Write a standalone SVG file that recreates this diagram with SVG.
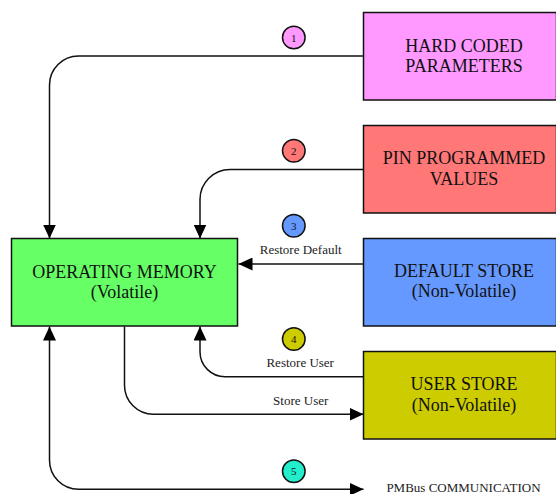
<svg xmlns="http://www.w3.org/2000/svg" width="556" height="494" viewBox="0 0 556 494">
<style>
.box{stroke:#111;stroke-width:1.5}
.t{font-family:'Liberation Serif','DejaVu Serif','Times New Roman',Times,serif;font-size:18px;fill:#111;text-anchor:middle}
.lbl{font-family:'Liberation Serif','DejaVu Serif','Times New Roman',Times,serif;font-size:13px;fill:#222;text-anchor:middle}
.num{font-family:'Liberation Serif','DejaVu Serif','Times New Roman',Times,serif;font-size:11px;fill:#111;text-anchor:middle}
.c{stroke:#111;stroke-width:1.5}
.ln{fill:none;stroke:#111;stroke-width:1.5}
</style>
<defs>
<marker id="ah" markerUnits="userSpaceOnUse" markerWidth="14" markerHeight="13" refX="14" refY="6.5" orient="auto-start-reverse" viewBox="0 0 14 13">
<path d="M0,0 L14,6.5 L0,13 Z" fill="#000"/>
</marker>
</defs>
<rect width="556" height="494" fill="#fff"/>
<g id="connectors">
<path class="ln" d="M363.5,56 H78.5 A29,29 0 0 0 49.5,85 V238.5" marker-end="url(#ah)"/>
<path class="ln" d="M363.5,169.5 H230 A30,30 0 0 0 200,199.5 V238.5" marker-end="url(#ah)"/>
<path class="ln" d="M363.5,264 H238.5" marker-end="url(#ah)"/>
<path class="ln" d="M363.5,376.7 H225 A25,25 0 0 1 200,351.7 V326.5" marker-end="url(#ah)"/>
<path class="ln" d="M124.5,326.5 V385.3 A29,29 0 0 0 153.5,414.3 H363.5" marker-end="url(#ah)"/>
<path class="ln" d="M49.5,326.5 V460.3 A29,29 0 0 0 78.5,489.3 H363.5" marker-start="url(#ah)" marker-end="url(#ah)"/>
<text class="lbl" x="300.7" y="254.3">Restore Default</text>
<text class="lbl" x="300.2" y="367.3">Restore User</text>
<text class="lbl" x="300.7" y="405.3">Store User</text>
</g>
<g id="badge1"><circle class="c" cx="293.8" cy="37.5" r="11.3" fill="#ff99ff"/><text class="num" x="293.8" y="41.5">1</text></g>
<g id="badge2"><circle class="c" cx="293.8" cy="150.7" r="11.3" fill="#ff7777"/><text class="num" x="293.8" y="154.7">2</text></g>
<g id="badge3"><circle class="c" cx="293.8" cy="225.7" r="11.3" fill="#6699ff"/><text class="num" x="293.8" y="229.7">3</text></g>
<g id="badge4"><circle class="c" cx="293.8" cy="339" r="11.3" fill="#cccc00"/><text class="num" x="293.8" y="343">4</text></g>
<g id="badge5"><circle class="c" cx="293.8" cy="471.3" r="11.3" fill="#22eecc"/><text class="num" x="293.8" y="475.3">5</text></g>
<g id="hard-coded">
<rect class="box" x="363.5" y="12.5" width="193" height="87.5" fill="#ff99ff"/>
<text class="t" x="464" y="51.7">HARD CODED</text>
<text class="t" x="464" y="72.3">PARAMETERS</text>
</g>
<g id="pin-programmed">
<rect class="box" x="363.5" y="125.5" width="193" height="87.5" fill="#ff7777"/>
<text class="t" x="464" y="164">PIN PROGRAMMED</text>
<text class="t" x="464" y="184.7">VALUES</text>
</g>
<g id="operating-memory">
<rect class="box" x="11.5" y="238.5" width="226" height="87.5" fill="#66ff66"/>
<text class="t" x="124.5" y="277.7">OPERATING MEMORY</text>
<text class="t" x="124.5" y="297.7">(Volatile)</text>
</g>
<g id="default-store">
<rect class="box" x="363.5" y="238.5" width="193" height="87.5" fill="#6699ff"/>
<text class="t" x="464" y="276.9">DEFAULT STORE</text>
<text class="t" x="464" y="297.4">(Non-Volatile)</text>
</g>
<g id="user-store">
<rect class="box" x="363.5" y="351.5" width="193" height="87.5" fill="#cccc00"/>
<text class="t" x="464" y="390.2">USER STORE</text>
<text class="t" x="464" y="410.7">(Non-Volatile)</text>
</g>
<g id="pmbus">
<text class="lbl" x="463.5" y="491.5">PMBus COMMUNICATION</text>
</g>
</svg>
